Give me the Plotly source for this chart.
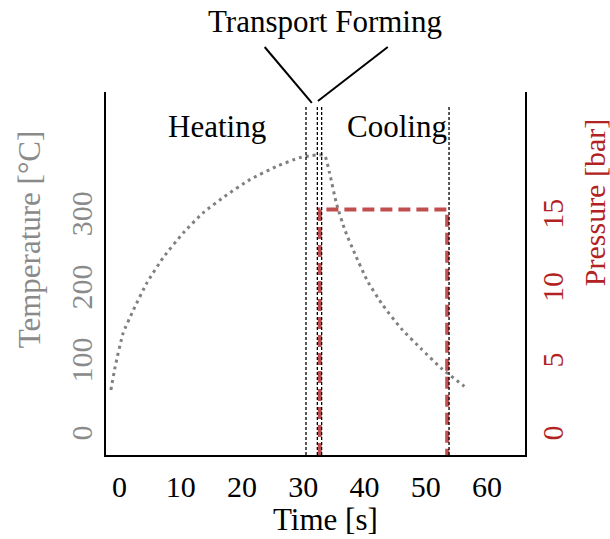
import plotly.graph_objects as go

# ---- data ----
temp_time = [-1.4, -0.7, 0.6, 2.3, 4.5, 7.2, 10.4, 13.7, 17.5, 21.3, 25.6, 29.4, 31.4, 32.6, 33.5,
             34.3, 35.4, 36.8, 38.4, 40.5, 43.0, 46.0, 49.3, 52.5, 56.3]
temp_vals = [65, 97, 143, 175, 212, 247, 280, 308, 332, 353, 371, 383, 386, 387, 386,
             362, 321, 284, 252, 214, 181, 149, 121, 95, 70]

press_time = [32.7, 32.7, 53.5, 53.5]
press_vals = [-1.2, 15.6, 15.6, -1.2]

phase_lines = [30.45, 32.3, 33.0, 53.8]

x_ticks = [0, 10, 20, 30, 40, 50, 60]
t_ticks = [0, 100, 200, 300]
p_ticks = [0, 5, 10, 15]

phase_labels = ["Heating", "Cooling"]
phase_label_x = [15.9, 45.3]

FONT = "Liberation Serif, Times New Roman, serif"
GRAY = "#8a8a8a"
RED = "#b22222"

fig = go.Figure()
fig.add_trace(go.Scatter(x=temp_time, y=temp_vals, mode="lines", yaxis="y",
                         line=dict(color="#808080", width=3, dash="3px,4px", shape="spline",
                                   smoothing=0.5),
                         showlegend=False, hoverinfo="skip"))
fig.add_trace(go.Scatter(x=press_time, y=press_vals, mode="lines", yaxis="y2",
                         line=dict(color="rgba(178,34,34,0.8)", width=4, dash="12px,6px"),
                         showlegend=False, hoverinfo="skip"))

shapes = []
for xv in phase_lines:
    shapes.append(dict(type="line", xref="x", yref="paper", x0=xv, x1=xv, y0=0, y1=0.959,
                       line=dict(color="black", width=1.3, dash="3px,2px"), layer="above"))
# leader lines for "Transport Forming"
shapes.append(dict(type="line", xref="x", yref="paper", x0=23.7, y0=1.124, x1=31.4, y1=0.970,
                   line=dict(color="black", width=2)))
shapes.append(dict(type="line", xref="x", yref="paper", x0=43.8, y0=1.124, x1=32.4, y1=0.975,
                   line=dict(color="black", width=2)))

C = dict(xanchor="center", yanchor="middle", showarrow=False)
annotations = [
    dict(text="Transport Forming", xref="x", yref="paper", x=33.5, y=1.193,
         font=dict(family=FONT, size=31, color="black"), **C),
    dict(text="Temperature [°C]", xref="paper", yref="paper", x=-0.183, y=0.595,
         textangle=-90, font=dict(family=FONT, size=31, color=GRAY), **C),
    dict(text="Pressure [bar]", xref="paper", yref="paper", x=1.165, y=0.694,
         textangle=-90, font=dict(family=FONT, size=30, color=RED), **C),
    dict(text="Time [s]", xref="paper", yref="paper", x=0.523, y=-0.179,
         font=dict(family=FONT, size=31, color="black"), **C),
]
for lab, xv in zip(phase_labels, phase_label_x):
    annotations.append(dict(text=lab, xref="x", yref="paper", x=xv, y=0.9036,
                            font=dict(family=FONT, size=31, color="black"), **C))

fig.update_layout(
    width=610, height=539, autosize=False,
    margin=dict(l=106, r=85, t=92, b=84),
    paper_bgcolor="white", plot_bgcolor="white",
    font=dict(family=FONT, size=30, color="black"),
    xaxis=dict(range=[-2.2, 66.2], tickvals=x_ticks, showline=True, linecolor="black",
               linewidth=2, ticks="", showgrid=False, zeroline=False, ticklabelstandoff=4,
               tickfont=dict(family=FONT, size=30, color="black")),
    yaxis=dict(range=[-24, 473], tickvals=t_ticks, tickangle=-90, showline=True,
               linecolor="black", linewidth=2, ticks="", showgrid=False, zeroline=False,
               tickfont=dict(family=FONT, size=30, color=GRAY)),
    yaxis2=dict(range=[-1.2, 23.65], tickvals=p_ticks, tickangle=-90, overlaying="y",
                side="right", showline=True, linecolor="black", linewidth=2, ticks="",
                showgrid=False, zeroline=False,
                tickfont=dict(family=FONT, size=30, color=RED)),
    shapes=shapes, annotations=annotations,
)

fig.write_html("out.html")
